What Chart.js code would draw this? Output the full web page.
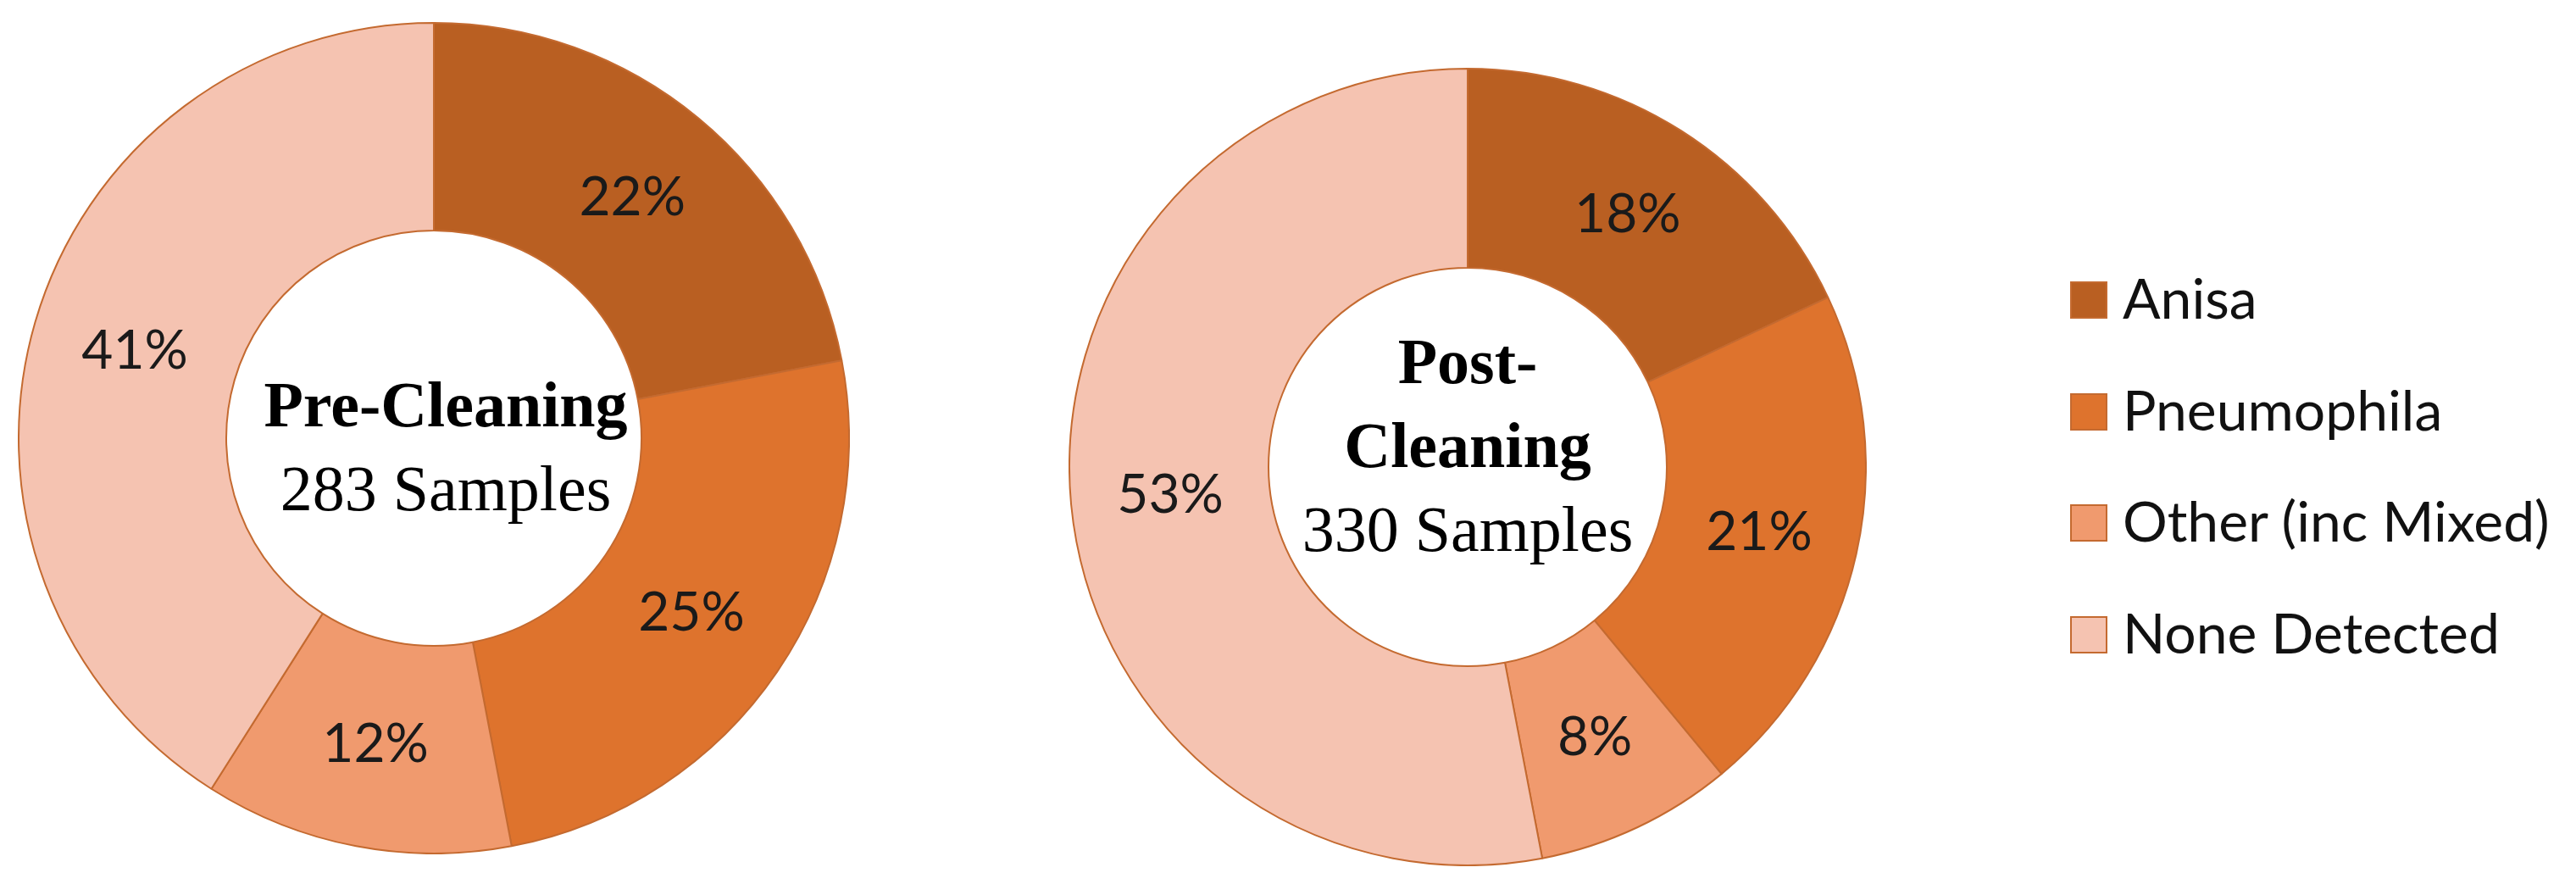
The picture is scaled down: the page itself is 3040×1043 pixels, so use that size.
<!DOCTYPE html>
<html>
<head>
<meta charset="utf-8">
<script src="https://cdn.jsdelivr.net/npm/chart.js@4.4.1/dist/chart.umd.min.js"></script>
<style>
  html, body { margin: 0; padding: 0; background: #fff; }
  body { width: 3040px; height: 1043px; position: relative; overflow: hidden; }
  .pie { position: absolute; }
  #preBox { left: 21px; top: 26px; width: 982px; height: 982px; }
  #postBox { left: 1261px; top: 80px; width: 942px; height: 942px; }
  #legend { position: absolute; left: 2443px; top: 332px; font-family: Lato, sans-serif; font-size: 66px; color: #111; }
  .item { position: relative; height: 131.5px; }
  .swatch { position: absolute; left: 0; top: 0; width: 40px; height: 40px; border: 2px solid #c46a30; }
  .item span { position: absolute; left: 62px; top: 19px; transform: translateY(-50%); line-height: 1; white-space: nowrap; }
</style>
</head>
<body>
<div class="pie" id="preBox"><canvas id="preChart"></canvas></div>
<div class="pie" id="postBox"><canvas id="postChart"></canvas></div>
<div id="legend"></div>
<script>
const categories = ['Anisa', 'Pneumophila', 'Other (inc Mixed)', 'None Detected'];
const preValues = [22, 25, 12, 41];
const postValues = [18, 21, 8, 53];
const preTitle = ['Pre-Cleaning'];
const preSamples = '283 Samples';
const postTitle = ['Post-', 'Cleaning'];
const postSamples = '330 Samples';

const sliceColors = ['#b95f22', '#de732d', '#f09a6e', '#f5c3b1'];
const edgeColor = '#c46a30';

// percentage in the middle of each ring segment
const sliceLabels = {
    id: 'sliceLabels',
    afterDatasetsDraw(chart) {
        const { ctx } = chart;
        const meta = chart.getDatasetMeta(0);
        const data = chart.data.datasets[0].data;
        ctx.save();
        ctx.font = '64px Lato';
        ctx.fillStyle = '#1a1a1a';
        ctx.textAlign = 'center';
        ctx.textBaseline = 'middle';
        meta.data.forEach((arc, i) => {
            const p = arc.tooltipPosition();
            ctx.fillText(data[i] + '%', p.x, p.y);
        });
        ctx.restore();
    }
};

// title + sample count in the hole
const centerText = {
    id: 'centerText',
    afterDraw(chart, args, opts) {
        const { ctx, chartArea } = chart;
        const cx = (chartArea.left + chartArea.right) / 2 + opts.dx;
        const cy = (chartArea.top + chartArea.bottom) / 2 + opts.dy;
        const lines = opts.title.map(t => ({ text: t, font: 'bold 76px "Liberation Serif"' }));
        lines.push({ text: opts.sub, font: '76px "Liberation Serif"' });
        ctx.save();
        ctx.textAlign = 'center';
        ctx.textBaseline = 'alphabetic';
        ctx.fillStyle = '#000';
        lines.forEach((l, i) => {
            ctx.font = l.font;
            ctx.fillText(l.text, cx, cy + i * opts.gap);
        });
        ctx.restore();
    }
};

const makeDonut = (id, values, title, sub, dx, dy) => {
    new Chart(document.getElementById(id), {
        type: 'doughnut',
        data: {
            labels: categories,
            datasets: [{
                data: values,
                backgroundColor: sliceColors,
                borderColor: edgeColor,
                borderWidth: 2
            }]
        },
        options: {
            responsive: true,
            maintainAspectRatio: false,
            animation: false,
            cutout: '50%',
            plugins: {
                legend: { display: false },
                tooltip: { enabled: false },
                centerText: { title: title, sub: sub, dx: dx, dy: dy, gap: 99 }
            }
        },
        plugins: [sliceLabels, centerText]
    });
};

makeDonut('preChart', preValues, preTitle, preSamples, 14, -14);
makeDonut('postChart', postValues, postTitle, postSamples, 0, -99);

// shared legend on the right
const legend = document.getElementById('legend');
categories.forEach((c, i) => {
    const row = document.createElement('div');
    row.className = 'item';
    row.innerHTML = `<div class="swatch" style="background:${sliceColors[i]}"></div><span>${c}</span>`;
    legend.appendChild(row);
});
</script>
</body>
</html>
